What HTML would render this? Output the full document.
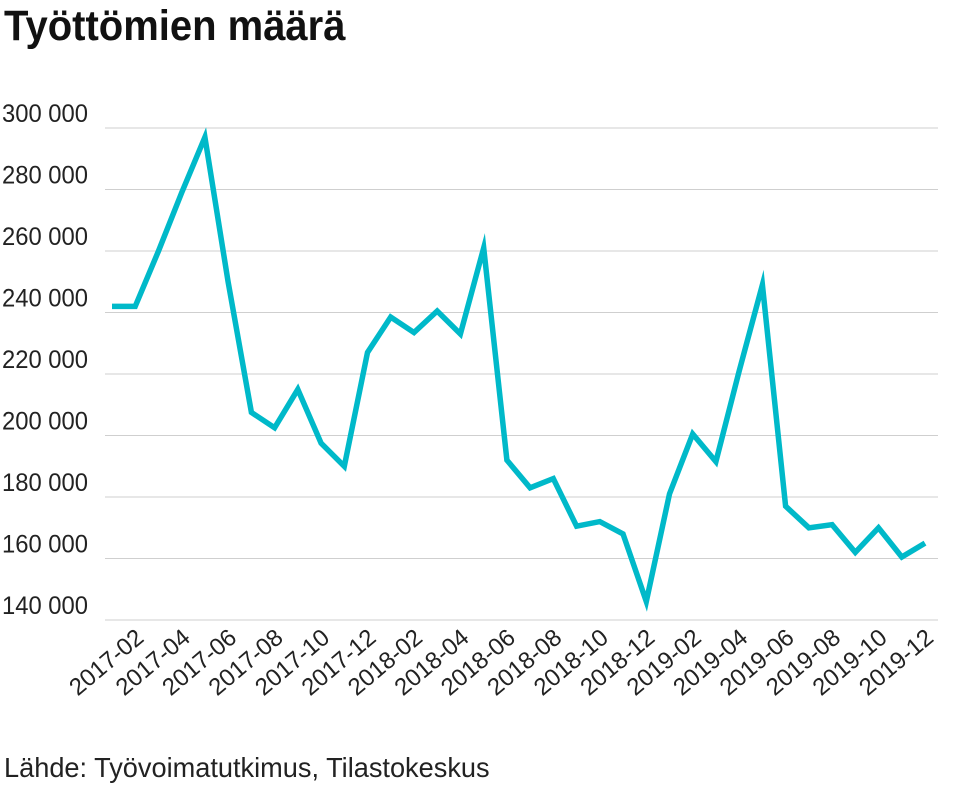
<!DOCTYPE html>
<html><head><meta charset="utf-8"><style>
html,body{margin:0;padding:0;background:#fff;}
body{width:959px;height:802px;position:relative;overflow:hidden;font-family:"Liberation Sans",sans-serif;}
#title{position:absolute;left:4px;top:2px;font-size:43px;font-weight:bold;color:#111;transform:scaleX(0.93);transform-origin:left top;white-space:nowrap;}
#source{position:absolute;left:4px;top:752px;font-size:28px;color:#222;transform:scaleX(0.97);transform-origin:left top;white-space:nowrap;}
</style></head><body>
<div id="title">Työttömien määrä</div>
<svg id="chart" width="959" height="802" style="position:absolute;left:0;top:0"></svg>
<div id="source">Lähde: Työvoimatutkimus, Tilastokeskus</div>
<script>
const months = [];
for (let y=2017;y<=2019;y++) for (let m=1;m<=12;m++) months.push(y+'-'+String(m).padStart(2,'0'));
const values = [242000,242000,260000,279000,297000,250000,207500,202500,215000,197500,190000,227000,
238500,233500,240500,233000,261000,192000,183000,186000,170500,172000,168000,146000,
181000,200500,191500,221000,249000,177000,170000,171000,162000,170000,160500,165000];
const yTicks = [140000,160000,180000,200000,220000,240000,260000,280000,300000];
const xTickLabels = months.filter((m,i)=>i%2===1);

const NS='http://www.w3.org/2000/svg';
const svg=document.getElementById('chart');
const x0=112,x1=925,yTop=128,yBot=620;
const xs=i=>x0+(x1-x0)*i/(months.length-1);
const ys=v=>yBot-(v-140000)/(300000-140000)*(yBot-yTop);
function mk(t,a){const e=document.createElementNS(NS,t);for(const k in a)e.setAttribute(k,a[k]);svg.appendChild(e);return e;}
yTicks.forEach(v=>{
  const g=mk('line',{x1:105,x2:938,y1:ys(v),y2:ys(v),stroke:'#cfcfcf','stroke-width':1});
  
  
  const t=mk('text',{x:2,y:ys(v)-6,'font-size':25,fill:'#222','font-family':'Liberation Sans, sans-serif',textLength:86,lengthAdjust:'spacingAndGlyphs'});
  t.textContent=(v/1000)+' 000';
  
  
});
months.forEach((m,i)=>{
  if(!xTickLabels.includes(m))return;
  const x=xs(i)+10,y=640;
  const t=mk('text',{x:x,y:y,'font-size':24,fill:'#222','text-anchor':'end','font-family':'Liberation Sans, sans-serif',transform:`rotate(-40 ${x} ${y})`,textLength:88,lengthAdjust:'spacingAndGlyphs'});
  t.textContent=m;
  
  
});
const d=values.map((v,i)=>(i?'L':'M')+xs(i).toFixed(1)+' '+ys(v).toFixed(1)).join(' ');
const p=mk('path',{d:d,fill:'none',stroke:'#00b9c9','stroke-width':5.5,'stroke-linejoin':'miter','stroke-miterlimit':10});


</script>
</body></html>
